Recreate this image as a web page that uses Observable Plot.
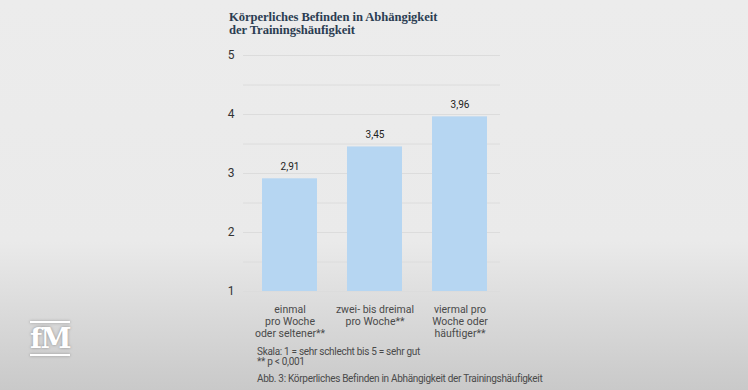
<!DOCTYPE html>
<html>
<head>
<meta charset="utf-8">
<script src="https://cdn.jsdelivr.net/npm/d3@7"></script>
<script src="https://cdn.jsdelivr.net/npm/@observablehq/plot@0.6"></script>
<style>
  html, body { margin:0; padding:0; }
  body { width:748px; height:390px; position:relative; overflow:hidden;
    background: linear-gradient(to bottom, #ececec 0%, #eaeaea 62%, #d6d6d6 85%, #c9c9c9 100%);
    font-family: Roboto, "Open Sans", sans-serif; }
  #title { position:absolute; left:229px; top:11px; font-family:"Liberation Serif", "DejaVu Serif", serif;
    font-weight:bold; font-size:12.6px; line-height:12.5px; color:#2b3d52; letter-spacing:-0.05px; }
  #chart { position:absolute; left:220px; top:40px; }
  .note { position:absolute; left:257px; font-size:10px; color:#4a4a4a; letter-spacing:-0.3px; line-height:11px; }
  #logo { position:absolute; left:29px; top:321px; width:42px; color:#fff; text-align:center;
    text-shadow: 0 0 3px rgba(0,0,0,0.35); }
  #logo .bar { height:2px; background:#fff; box-shadow:0 0 3px rgba(0,0,0,0.3); margin:0 1px; }
  #logo .txt { font-family:"DejaVu Serif", serif; font-weight:bold; font-size:28px; line-height:31px; letter-spacing:-1.5px; }
</style>
</head>
<body>
<div id="title">Körperliches Befinden in Abhängigkeit<br>der Trainingshäufigkeit</div>
<div id="chart"></div>
<div class="note" style="top:346px;">Skala: 1 = sehr schlecht bis 5 = sehr gut</div>
<div class="note" style="top:356px;">** p &lt; 0,001</div>
<div class="note" style="top:373px;">Abb. 3: Körperliches Befinden in Abhängigkeit der Trainingshäufigkeit</div>
<div id="logo"><div class="bar"></div><div class="txt">fM</div><div class="bar"></div></div>
<script>
const categories = ["einmal", "zweibisdrei", "viermal"];
const categoryLabels = ["einmal\npro Woche\noder seltener**", "zwei- bis dreimal\npro Woche**", "viermal pro\nWoche oder\nhäuftiger**"];
const values = [2.91, 3.45, 3.96];
const yTicks = [1, 2, 3, 4, 5];
const gridValues = [1, 1.5, 2, 2.5, 3, 3.5, 4, 4.5, 5];

const data = categories.map((c, i) => ({cat: c, value: values[i]}));
const labelOf = Object.fromEntries(categories.map((c, i) => [c, categoryLabels[i]]));
const fmt = v => v.toFixed(2).replace(".", ",");

const chart = Plot.plot({
  width: 300,
  height: 305,
  marginTop: 15,
  marginBottom: 54,
  marginLeft: 23,
  marginRight: 20,
  style: {background: "transparent", fontFamily: "Roboto, sans-serif", overflow: "visible"},
  x: {domain: categories, paddingInner: 0.35, paddingOuter: 0.186, align: 0.6},
  y: {domain: [1, 5]},
  marks: [
    Plot.ruleY(gridValues, {stroke: "#dcdcdc", strokeWidth: 1}),
    Plot.barY(data, {x: "cat", y1: 1, y2: "value", fill: "#b6d6f2"}),
    Plot.text(data, {x: "cat", y: "value", text: d => fmt(d.value), dy: -12, fontSize: 10, fill: "#222"}),
    Plot.axisY({ticks: yTicks, tickFormat: d => String(d), tickSize: 0, tickPadding: 9, fontSize: 12, color: "#333", label: null}),
    Plot.axisX({tickSize: 0, tickPadding: 13, tickFormat: d => labelOf[d], fontSize: 10.5, lineHeight: 1.15, color: "#4a4a4a", label: null})
  ]
});
document.getElementById("chart").appendChild(chart);
</script>
</body>
</html>
